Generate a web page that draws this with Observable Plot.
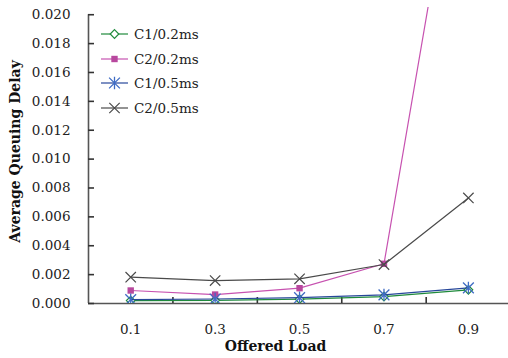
<!DOCTYPE html>
<html><head><meta charset="utf-8">
<script src="https://cdn.jsdelivr.net/npm/d3@7"></script>
<script src="https://cdn.jsdelivr.net/npm/@observablehq/plot@0.6"></script>
<style>body{margin:0;background:#fff}</style>
</head><body><div id="chart"></div>
<script>
// ---- data ----
const loads = [0.1, 0.3, 0.5, 0.7, 0.9];
const seriesNames = ["C1/0.2ms", "C2/0.2ms", "C1/0.5ms", "C2/0.5ms"];
const c1_02 = [0.00020, 0.00022, 0.00030, 0.00048, 0.00095];
const c2_02 = [0.00090, 0.00062, 0.00106, 0.00275, 0.0368];
const c1_05 = [0.00027, 0.00031, 0.00040, 0.00060, 0.00108];
const c2_05 = [0.00182, 0.00159, 0.00171, 0.00270, 0.00731];
const yTicks = [0, 0.002, 0.004, 0.006, 0.008, 0.010, 0.012, 0.014, 0.016, 0.018, 0.020];
const xTickMarks = [0.2, 0.4, 0.6, 0.8];
const xTitle = "Offered Load";
const yTitle = "Average Queuing Delay";

const seriesValues = [c1_02, c2_02, c1_05, c2_05];
const rows = seriesNames.flatMap((n, i) => loads.map((x, j) => ({series: n, load: x, delay: seriesValues[i][j]})));

// ---- symbols ----
const rad = s => Math.sqrt(s / Math.PI);
const symDiamond = {draw(c, s){const r = rad(s); c.moveTo(0,-r); c.lineTo(r,0); c.lineTo(0,r); c.lineTo(-r,0); c.closePath();}};
const symSquare = {draw(c, s){const r = rad(s); c.rect(-r,-r,2*r,2*r);}};
const symStar = {draw(c, s){const r = rad(s); c.moveTo(-r,-r); c.lineTo(r,r); c.moveTo(r,-r); c.lineTo(-r,r); c.moveTo(0,-r*1.15); c.lineTo(0,r*1.15);}};
const symTimes = {draw(c, s){const r = rad(s); c.moveTo(-r,-r); c.lineTo(r,r); c.moveTo(r,-r); c.lineTo(-r,r);}};

const styles = {
  "C1/0.2ms": {line: "#1f8a3c", sym: symDiamond, r: 4.3, fill: "white", stroke: "#1f8a3c", sw: 1.2},
  "C2/0.2ms": {line: "#c752b0", sym: symSquare, r: 3.2, fill: "#b8489e", stroke: "none", sw: 0},
  "C1/0.5ms": {line: "#27479a", sym: symStar, r: 5.4, fill: "none", stroke: "#3f6cc4", sw: 1.3},
  "C2/0.5ms": {line: "#4a4a4a", sym: symTimes, r: 5.2, fill: "none", stroke: "#4a4a4a", sw: 1.2}
};

const marks = [];
// axes lines
marks.push(Plot.ruleY([0], {stroke: "#555", strokeWidth: 1.6}));
marks.push(Plot.ruleX([0], {y1: 0, y2: 0.020, stroke: "#555", strokeWidth: 1.6}));
// inward tick marks (6px via negative insets)
marks.push(Plot.ruleY(yTicks, {y: d => d, x1: 0, x2: 0, insetRight: -6, stroke: "#333", strokeWidth: 1.6}));
marks.push(Plot.ruleX(xTickMarks, {x: d => d, y1: 0, y2: 0, insetTop: -6, stroke: "#333", strokeWidth: 1.6}));
// y labels
marks.push(Plot.axisY({ticks: yTicks, tickSize: 0, tickPadding: 18, tickFormat: d3.format(".3f"), label: null, fontSize: 13.5, fill: "#222"}));
// x labels at category centres
marks.push(Plot.axisX({ticks: loads, tickSize: 0, tickPadding: 21, tickFormat: d => String(d), label: null, fontSize: 13.5, fill: "#222"}));
// series
for (const n of seriesNames) {
  const st = styles[n];
  const d = rows.filter(r => r.series === n);
  marks.push(Plot.line(d, {x: "load", y: "delay", stroke: st.line, strokeWidth: 1.2, clip: true}));
  marks.push(Plot.dot(d, {x: "load", y: "delay", symbol: st.sym, r: st.r, fill: st.fill, stroke: st.stroke, strokeWidth: st.sw, clip: true}));
}
// titles
marks.push(Plot.text([yTitle], {frameAnchor: "left", textAnchor: "middle", dx: -73, dy: -4, rotate: -90, fontWeight: "bold", fontSize: 14, fill: "#111"}));
marks.push(Plot.text([xTitle], {frameAnchor: "bottom", dx: -23, dy: 47, fontWeight: "bold", fontSize: 14, fill: "#111"}));

const chart = Plot.plot({
  width: 508, height: 358,
  marginLeft: 88, marginRight: 0, marginTop: 7, marginBottom: 55,
  x: {domain: [0, 0.995]},
  y: {domain: [0, 0.0205]},
  style: {fontFamily: "DejaVu Serif", fontSize: "13.5px", background: "white", color: "#222"},
  marks
});
document.getElementById("chart").appendChild(chart);

// legend
const svg = d3.select(chart);
const lg = svg.append("g").attr("font-family", "DejaVu Serif").attr("font-size", 13.5).attr("text-anchor", "start");
const rowsY = [34, 59, 83, 108];
seriesNames.forEach((n, i) => {
  const st = styles[n];
  const y = rowsY[i];
  lg.append("line").attr("x1", 101).attr("x2", 128).attr("y1", y).attr("y2", y).attr("stroke", st.line).attr("stroke-width", 1.2);
  lg.append("path").attr("d", d3.symbol(st.sym, Math.PI * st.r * st.r)()).attr("transform", `translate(114.5,${y})`)
    .attr("fill", st.fill).attr("stroke", st.stroke).attr("stroke-width", st.sw);
  lg.append("text").attr("x", 134).attr("y", y).attr("dy", "0.35em").attr("text-anchor", "start").attr("fill", "#222").text(n);
});
</script>
</body></html>
